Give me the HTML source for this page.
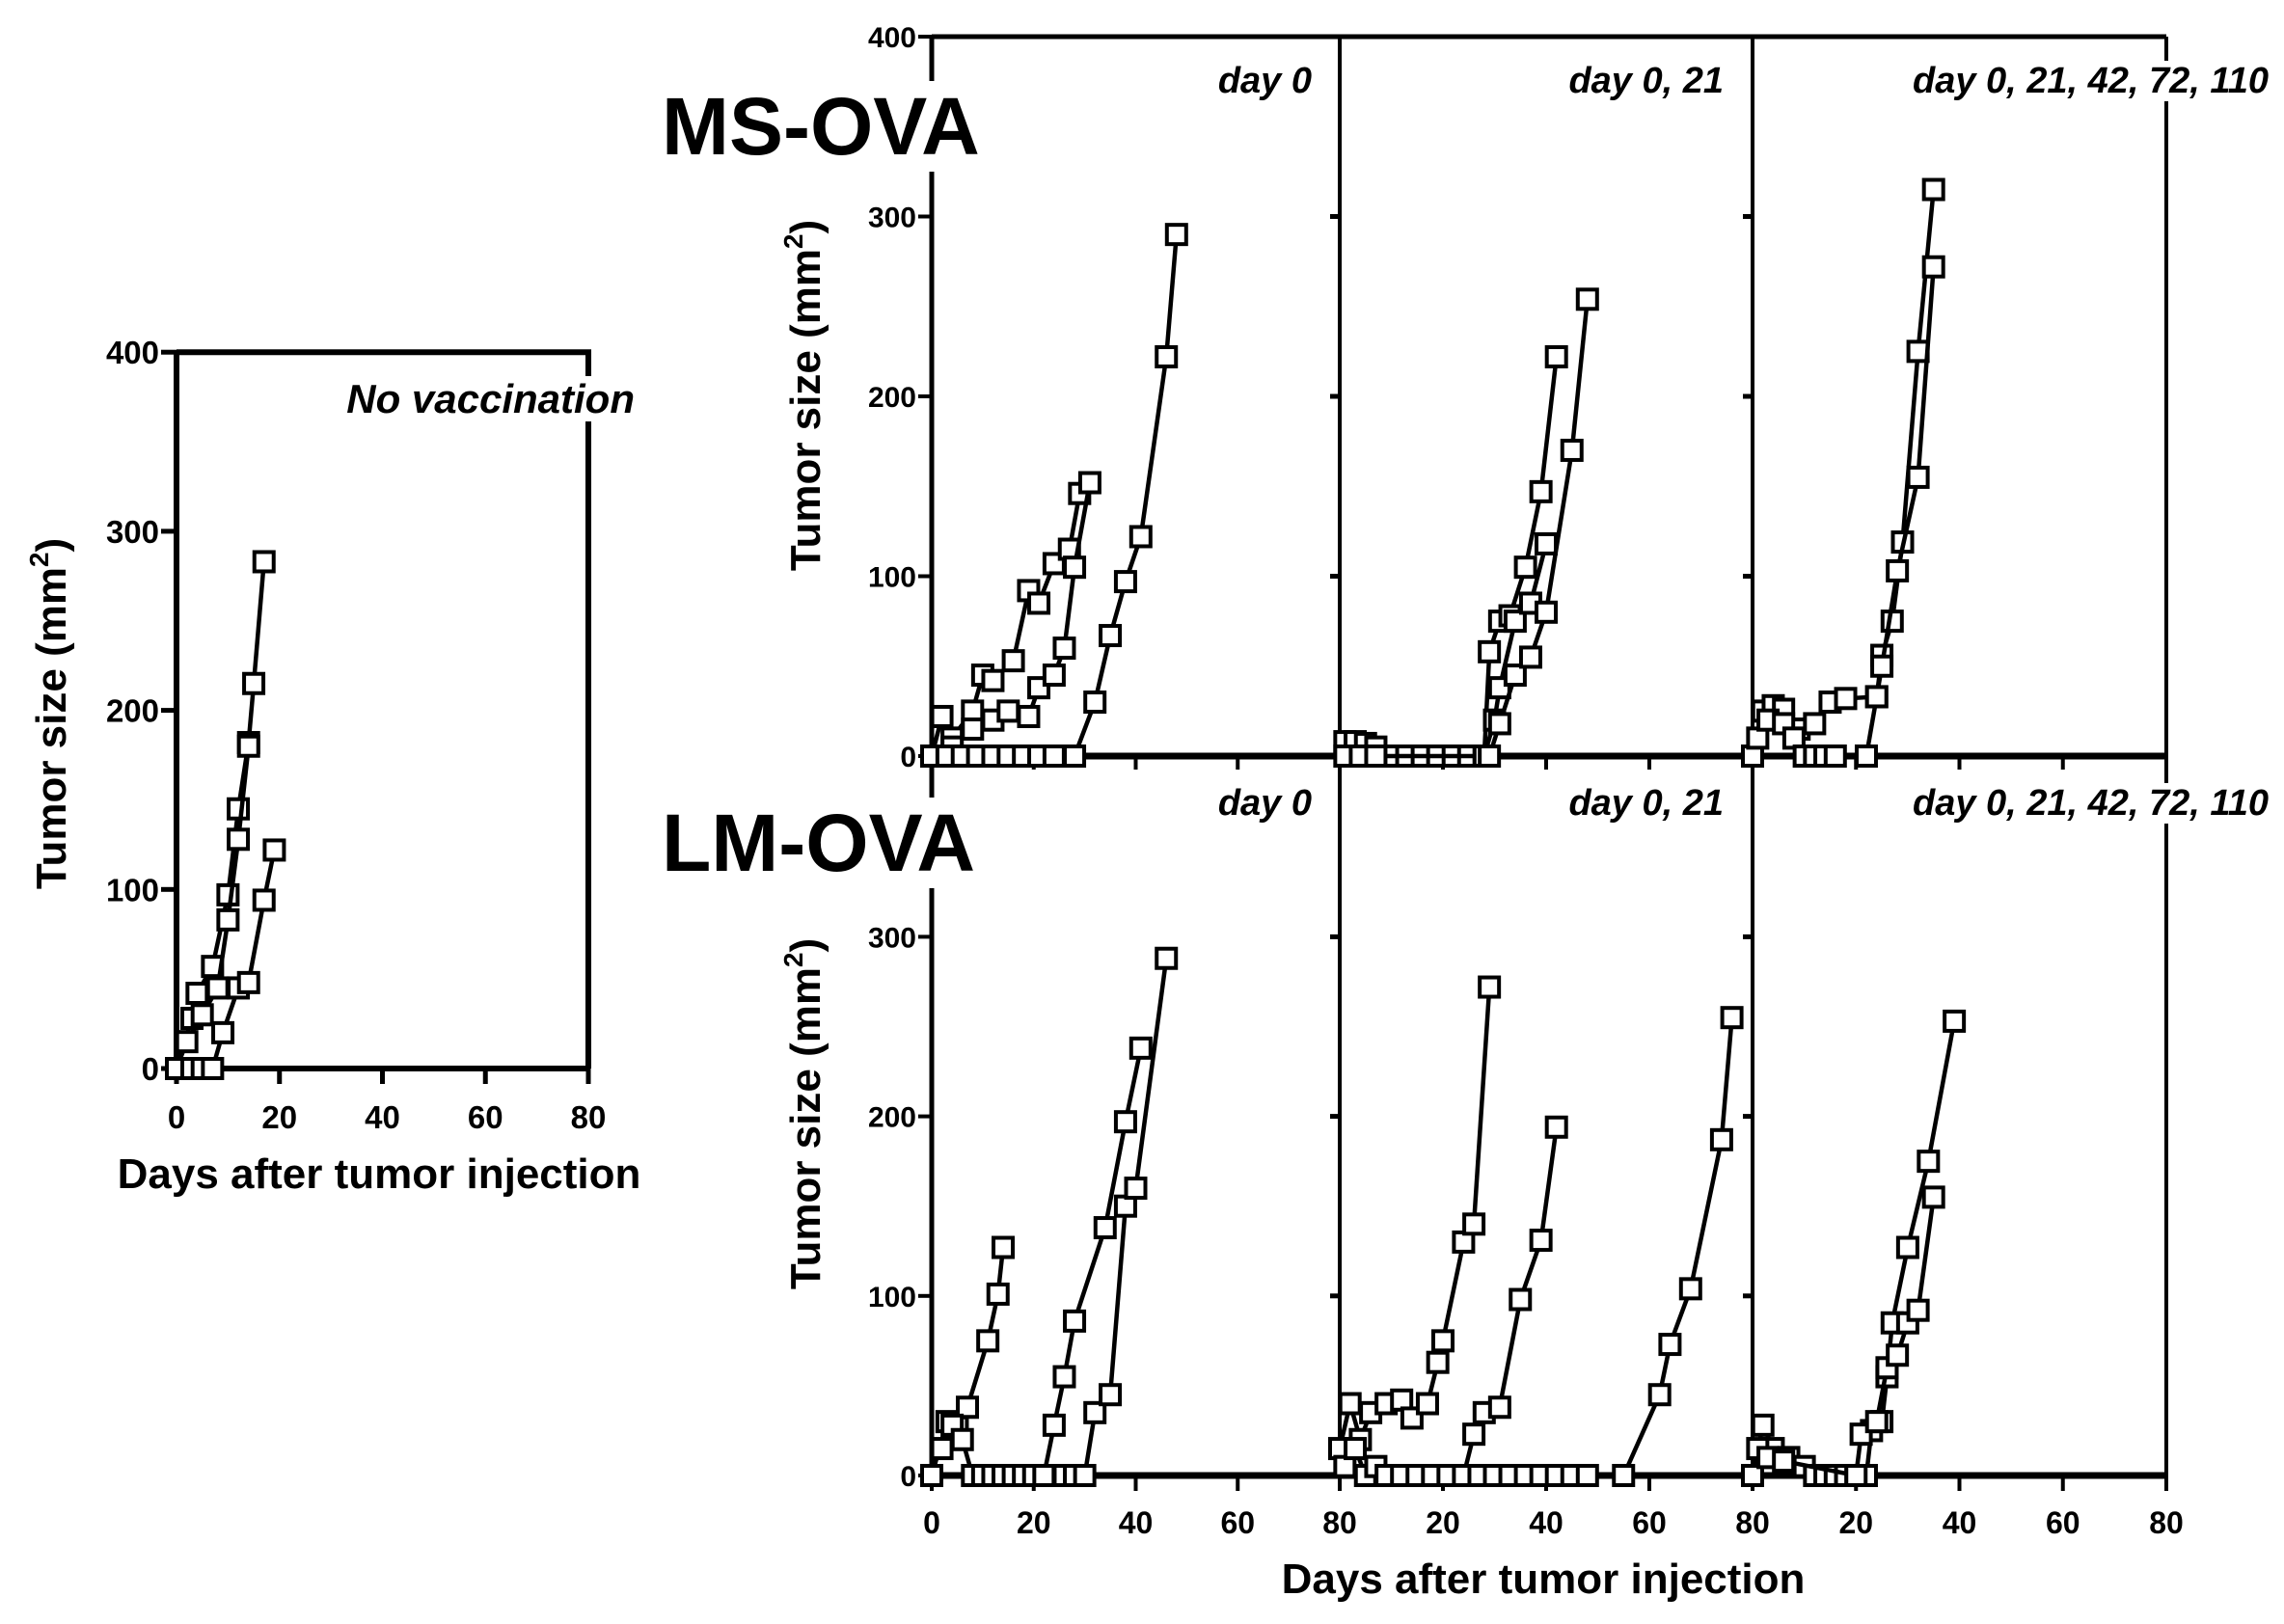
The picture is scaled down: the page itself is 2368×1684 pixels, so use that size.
<!DOCTYPE html>
<html><head><meta charset="utf-8"><style>
html,body{margin:0;padding:0;background:#fff;}
svg{display:block;font-family:"Liberation Sans",Arial,sans-serif;}
</style></head><body>
<svg id="chart" width="2368" height="1684" viewBox="0 0 2368 1684" xmlns="http://www.w3.org/2000/svg">
<g id="axes"></g>
<g id="series"></g>
<g id="labels"></g>
</svg>
<script>
const xTicks = [0, 20, 40, 60, 80];
const yTicks = [0, 100, 200, 300, 400];
const panelTitles = ["No vaccination","day 0","day 0, 21","day 0, 21, 42, 72, 110","day 0","day 0, 21","day 0, 21, 42, 72, 110"];

const noVacc = [
 [[0,0],[3,28],[4,42],[7,57],[10,97],[12,145],[14,182],[15,215],[17,283]],
 [[0,0],[2,15],[5,30],[8,45],[10,83],[12,128],[14,180]],
 [[3,0],[5,0],[7,0],[9,20],[12,45],[14,48],[17,94],[19,122]]
];
const msDay0 = [
 [[0,0],[2,22],[4,10],[8,25],[10,45],[12,42],[16,53],[19,92],[21,85],[24,107],[27,115],[29,146]],
 [[0,0],[4,5],[8,15],[12,20],[15,25],[19,22],[21,38],[24,45],[26,60],[28,105],[31,152]],
 [[3,0],[6,0],[9,0],[12,0],[15,0],[18,0],[21,0],[24,0],[28,0],[32,30],[35,67],[38,97],[41,122],[46,222],[48,290]]
];
const msDay021 = [
 [[1,8],[3,8],[5,7],[7,5],[10,0],[13,0],[16,0],[19,0],[22,0],[25,0],[28,0],[29,58],[31,75],[33,78],[36,105],[39,147],[42,222]],
 [[1,0],[4,0],[7,0],[28,0],[30,20],[31,38],[34,75],[37,85],[40,118]],
 [[29,0],[31,18],[34,45],[37,55],[40,80],[45,170],[48,254]]
];
const msDayAll = [
 [[0,0],[2,25],[4,28],[6,26],[9,15],[12,18],[15,30],[18,32],[24,33],[25,56],[27,75],[29,119],[32,225],[35,315]],
 [[1,10],[3,20],[6,18],[8,10],[10,0],[12,0],[14,0],[16,0],[22,0],[24,33],[25,50],[28,103],[32,155],[35,272]]
];
const lmDay0 = [
 [[0,0],[3,30],[5,27],[7,38],[11,75],[13,101],[14,127]],
 [[2,15],[4,28],[6,20],[8,0],[10,0],[12,0],[14,0],[16,0],[18,0],[20,0],[22,0],[24,28],[26,55],[28,86],[34,138],[38,197],[41,238]],
 [[26,0],[28,0],[30,0],[32,35],[35,45],[38,150],[40,160],[46,288]]
];
const lmDay021 = [
 [[0,15],[2,40],[4,20],[6,35],[9,40],[12,42],[14,32],[17,40],[19,63],[20,75],[24,130],[26,140],[29,272]],
 [[1,5],[3,15],[5,0],[7,5],[9,0],[12,0],[15,0],[18,0],[21,0],[24,0],[26,23],[28,35],[31,38],[35,98],[39,131],[42,194]],
 [[27,0],[30,0],[33,0],[36,0],[39,0],[42,0],[45,0],[48,0],[55,0],[62,45],[64,73],[68,104],[74,187],[76,255]]
];
const lmDayAll = [
 [[0,0],[2,28],[4,15],[7,10],[10,5],[12,0],[14,0],[16,0],[18,0],[20,0],[22,0],[23,25],[25,30],[26,55],[27,85],[30,127],[34,175],[39,253]],
 [[1,15],[3,10],[6,8],[20,0],[21,23],[24,30],[26,60],[28,67],[30,85],[32,92],[35,155]]
];

const NS = "http://www.w3.org/2000/svg";
function mk(tag, attrs, parent, text){
  const e = document.createElementNS(NS, tag);
  for (const k in attrs) e.setAttribute(k, attrs[k]);
  if (text !== undefined) e.textContent = text;
  parent.appendChild(e); return e;
}
const axesG = document.getElementById('axes');
const serG = document.getElementById('series');
const labG = document.getElementById('labels');

function line(x1,y1,x2,y2,w,name){
  const l = mk('line',{x1:x1,y1:y1,x2:x2,y2:y2,stroke:'#000','stroke-width':w},axesG);
  
  
}
function txt(x,y,s,size,anchor,extra,name){
  const t = mk('text',Object.assign({x:x,y:y,'font-size':size,'text-anchor':anchor,'font-weight':'bold',fill:'#000'},extra||{}),labG,s);
  
  
  return t;
}

const panels = [
 {x0:183, w:427, y0:1108, h100:185.7, data:noVacc},
 {x0:966, w:423, y0:784, h100:186.5, data:msDay0},
 {x0:1389, w:428, y0:784, h100:186.5, data:msDay021},
 {x0:1817, w:429, y0:784, h100:186.5, data:msDayAll},
 {x0:966, w:423, y0:1530, h100:186.2, data:lmDay0},
 {x0:1389, w:428, y0:1530, h100:186.2, data:lmDay021},
 {x0:1817, w:429, y0:1530, h100:186.2, data:lmDayAll}
];
function xs(p,d){return p.x0 + d/80*p.w;}
function ys(p,v){return p.y0 - v/100*p.h100;}

const L = panels[0];
line(L.x0, ys(L,400), L.x0, L.y0+6, 6, 'left-y-axis');
line(L.x0, ys(L,400), L.x0+L.w+3, ys(L,400), 6, 'left-top-border');
line(L.x0+L.w, ys(L,400), L.x0+L.w, L.y0, 6, 'left-right-border');
line(L.x0, L.y0, L.x0+L.w, L.y0, 6, 'left-x-axis');
yTicks.forEach(v=>{ line(L.x0-16, ys(L,v), L.x0, ys(L,v), 5, 'left-y-tick');
  txt(L.x0-18, ys(L,v)+12, String(v), 33, 'end', {}, 'left-y-tick-label'); });
xTicks.forEach(d=>{ line(xs(L,d), L.y0, xs(L,d), L.y0+16, 5, 'left-x-tick');
  txt(xs(L,d), L.y0+62, String(d), 33, 'middle', {}, 'left-x-tick-label'); });

const topY = ys(panels[1],400);
line(966, topY, 2246, topY, 5, 'grid-top-border');
line(966, topY, 966, 1536, 5, 'grid-left-axis');
[1389,1817,2246].forEach(x=>line(x, topY, x, 1530, 4, 'panel-divider'));
line(966, 784, 2246, 784, 7, 'upper-x-axis');
line(966, 1530, 2246, 1530, 7, 'lower-x-axis');
[panels[1],panels[4]].forEach((p,i)=>{
  (i===0?yTicks:yTicks.slice(0,4)).forEach(v=>{
    line(p.x0-14, ys(p,v), p.x0, ys(p,v), 4, 'y-tick');
    txt(p.x0-16, ys(p,v)+11, String(v), 30, 'end', {}, 'y-tick-label');
  });
});
[panels[2],panels[3],panels[5],panels[6]].forEach(p=>{
  [100,200,300].forEach(v=>line(p.x0-10, ys(p,v), p.x0, ys(p,v), 5, 'inner-y-tick')); });
panels.slice(1,4).forEach(p=>[20,40,60,80].forEach(d=>line(xs(p,d), p.y0, xs(p,d), p.y0+14, 4, 'upper-x-tick')));
panels.slice(4).forEach((p,i)=>xTicks.forEach(d=>{
  line(xs(p,d), p.y0, xs(p,d), p.y0+16, 4, 'lower-x-tick');
  if (i===0 || d>0) txt(xs(p,d), p.y0+60, String(d), 32, 'middle', {}, 'x-tick-label');
}));

panels.forEach(p=>{
  p.data.forEach(s=>{
    const pts = s.map(q=>xs(p,q[0]).toFixed(1)+','+ys(p,q[1]).toFixed(1)).join(' ');
    const pl = mk('polyline',{points:pts,fill:'none',stroke:'#000','stroke-width':4.5},serG);
    
    
    s.forEach(q=>{
      const r = mk('rect',{x:xs(p,q[0])-10,y:ys(p,q[1])-10,width:20,height:20,fill:'#fff',stroke:'#000','stroke-width':4},serG);
      
      
    });
  });
});

function bgText(x,y,s,size,anchor,extra,name,pad){
  const t = txt(x,y,s,size,anchor,extra,name);
  let b;
  try { b = t.getBBox(); } catch(e) { b = null; }
  if (!b) return;
  const r = document.createElementNS(NS,'rect');
  r.setAttribute('x',b.x-pad); r.setAttribute('y',b.y); r.setAttribute('width',b.width+2*pad); r.setAttribute('height',b.height);
  r.setAttribute('fill','#fff');
  
  
  labG.insertBefore(r,t);
}
bgText(658, 428, panelTitles[0], 42, 'end', {'font-style':'italic'}, 'panel-title', 6);
bgText(1360, 96, panelTitles[1], 38, 'end', {'font-style':'italic'}, 'panel-title', 4);
bgText(1787, 96, panelTitles[2], 38, 'end', {'font-style':'italic'}, 'panel-title', 4);
bgText(2352, 96, panelTitles[3], 38, 'end', {'font-style':'italic'}, 'panel-title', 4);
bgText(1360, 845, panelTitles[4], 38, 'end', {'font-style':'italic'}, 'panel-title', 4);
bgText(1787, 845, panelTitles[5], 38, 'end', {'font-style':'italic'}, 'panel-title', 4);
bgText(2352, 845, panelTitles[6], 38, 'end', {'font-style':'italic'}, 'panel-title', 4);
bgText(686, 160, 'MS-OVA', 84, 'start', {}, 'ms-ova-label', 6);
bgText(686, 903, 'LM-OVA', 84, 'start', {}, 'lm-ova-label', 6);

function ytitle(x,y,name){
  const t = txt(0,0,'',44,'middle',{transform:'translate('+x+','+y+') rotate(-90)'},name);
  t.appendChild(document.createTextNode('Tumor size (mm'));
  mk('tspan',{'font-size':28,dy:-18},t,'2');
  mk('tspan',{dy:18},t,')');
}
ytitle(68, 740, 'left-y-axis-title');
ytitle(850, 410, 'upper-y-axis-title');
ytitle(850, 1155, 'lower-y-axis-title');
txt(393, 1232, 'Days after tumor injection', 44, 'middle', {}, 'left-x-axis-title');
txt(1600, 1652, 'Days after tumor injection', 44, 'middle', {}, 'x-axis-title');
</script>
</body></html>
